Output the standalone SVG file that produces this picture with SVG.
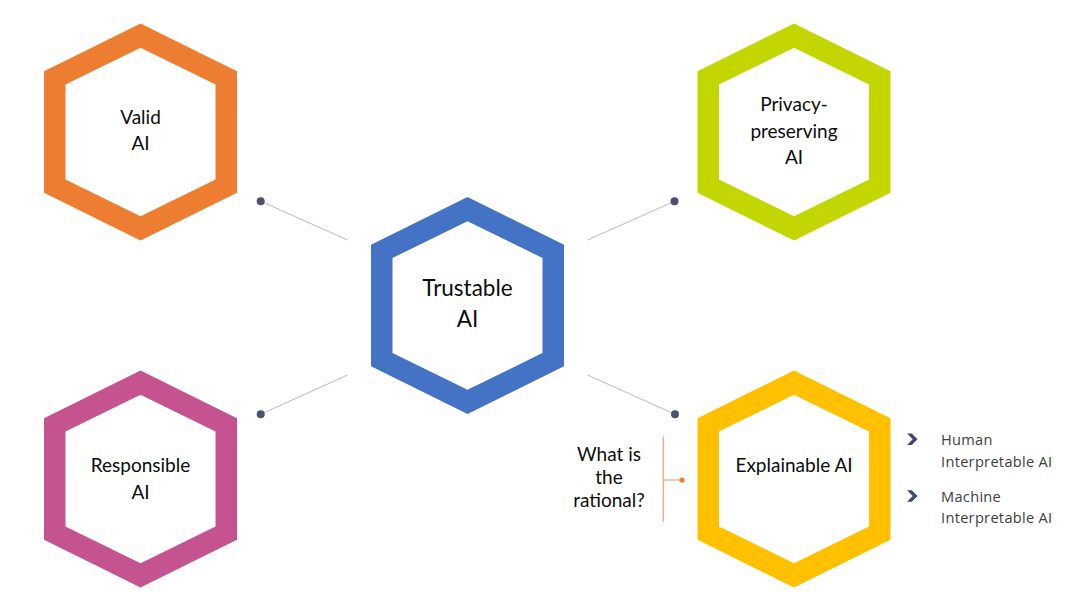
<svg xmlns="http://www.w3.org/2000/svg" xmlns:xlink="http://www.w3.org/1999/xlink" width="1080" height="603" viewBox="0 0 1080 603">
  <style>
    .lbl { font-family: Lato, "Open Sans", "Liberation Sans", sans-serif; font-size: 19px; fill: #0d0d0d; text-anchor: middle; }
    .big { font-size: 22.5px; }
    .lst { font-family: "Open Sans", "Noto Sans", "Liberation Sans", sans-serif; font-size: 14.6px; fill: #404040; letter-spacing: 0.3px; }
    .conn { stroke: #c3c3c8; stroke-width: 1.1; fill: none; }
    .dot { fill: #4b5270; }
    .chev { fill: #414a6e; }
  </style>
  <defs>
    <path id="hex" fill-rule="evenodd" d="M0,-108.5 L96.5,-60.8 L96.5,60.8 L0,108.5 L-96.5,60.8 L-96.5,-60.8 Z M0,-84.3 L75,-47.5 L75,47.5 L0,84.3 L-75,47.5 L-75,-47.5 Z"/>
  </defs>
  <rect width="1080" height="603" fill="#ffffff"/>

  <g id="connectors">
    <line class="conn" x1="260.7" y1="201.3" x2="347.5" y2="240"/>
    <line class="conn" x1="674.5" y1="201.3" x2="587.5" y2="240"/>
    <line class="conn" x1="260.7" y1="414.3" x2="347.5" y2="375"/>
    <line class="conn" x1="675" y1="414.3" x2="587.5" y2="375"/>
    <circle class="dot" cx="260.7" cy="201.3" r="4"/>
    <circle class="dot" cx="674.5" cy="201.3" r="4"/>
    <circle class="dot" cx="260.7" cy="414.3" r="4"/>
    <circle class="dot" cx="675" cy="414.3" r="4"/>
  </g>

  <g id="valid-ai">
    <use xlink:href="#hex" href="#hex" transform="translate(140.5,132)" fill="#ed7d31"/>
    <text class="lbl" x="140.5" y="123.5">Valid</text>
    <text class="lbl" x="140.5" y="150">AI</text>
  </g>

  <g id="privacy-ai">
    <use xlink:href="#hex" href="#hex" transform="translate(794,132)" fill="#c4d600"/>
    <text class="lbl" x="794" y="111">Privacy-</text>
    <text class="lbl" x="794" y="137.5">preserving</text>
    <text class="lbl" x="794" y="164">AI</text>
  </g>

  <g id="trustable-ai">
    <use xlink:href="#hex" href="#hex" transform="translate(467.5,305.5)" fill="#4472c4"/>
    <text class="lbl big" x="467.5" y="296">Trustable</text>
    <text class="lbl big" x="467.5" y="326.5">AI</text>
  </g>

  <g id="responsible-ai">
    <use xlink:href="#hex" href="#hex" transform="translate(140.5,479)" fill="#c55390"/>
    <text class="lbl" x="140.5" y="472">Responsible</text>
    <text class="lbl" x="140.5" y="498.5">AI</text>
  </g>

  <g id="explainable-ai">
    <use xlink:href="#hex" href="#hex" transform="translate(794,479)" fill="#ffc000"/>
    <text class="lbl" x="794" y="472">Explainable AI</text>
  </g>

  <g id="rationale">
    <text class="lbl" x="609" y="461">What is</text>
    <text class="lbl" x="609" y="484">the</text>
    <text class="lbl" x="609" y="507">rational?</text>
    <line x1="663.3" y1="436.7" x2="663.3" y2="521.7" stroke="#f4a97e" stroke-width="1.3"/>
    <line x1="663.3" y1="480" x2="681" y2="480" stroke="#f4a97e" stroke-width="1.3"/>
    <circle cx="682" cy="480" r="2.6" fill="#ed7d31"/>
  </g>

  <g id="xai-types">
    <polygon class="chev" points="907,433.5 911.8,433.5 917.5,439.3 911.8,445 907,445 912.7,439.3"/>
    <text class="lst" x="941" y="445">Human</text>
    <text class="lst" x="941" y="466.7">Interpretable AI</text>
    <polygon class="chev" points="907,490.2 911.8,490.2 917.5,496 911.8,501.7 907,501.7 912.7,496"/>
    <text class="lst" x="941" y="501.7">Machine</text>
    <text class="lst" x="941" y="523.3">Interpretable AI</text>
  </g>
</svg>
